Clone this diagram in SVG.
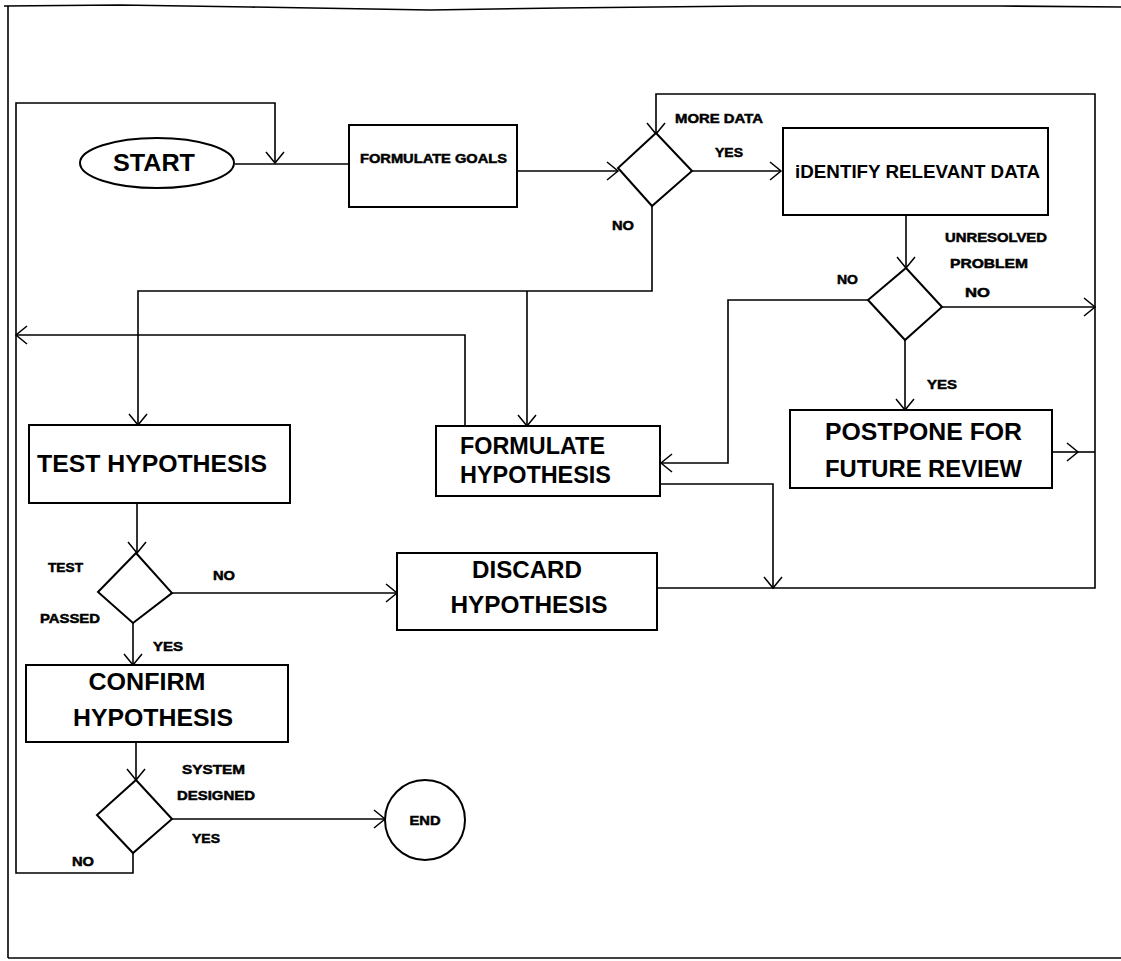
<svg xmlns="http://www.w3.org/2000/svg" width="1121" height="961" viewBox="0 0 1121 961">
<defs>
<marker id="arr" viewBox="-14 -12 16 24" refX="0" refY="0" markerWidth="16" markerHeight="24" markerUnits="userSpaceOnUse" orient="auto">
<path d="M-11,-9 L0,0 L-11,9" fill="none" stroke="#000" stroke-width="1.5"/>
</marker>
</defs>
<style>
.box{fill:#fff;stroke:#000;stroke-width:2}
.ln{fill:none;stroke:#000;stroke-width:1.6}
.big{font-family:"Liberation Sans",Arial,sans-serif;font-weight:bold;font-size:24px;fill:#000}
.sm{font-family:"Liberation Sans",Arial,sans-serif;font-weight:bold;font-size:13px;fill:#000;stroke:#000;stroke-width:0.5}
</style>
<rect width="1121" height="961" fill="#fff"/>
<g id="frame">
<polyline class="ln" stroke-width="2.5" points="4,6 120,5 250,7 430,10 560,8 750,6 1000,6 1121,7"/>
<line class="ln" stroke-width="2.5" x1="8" y1="6" x2="8" y2="958"/>
<line class="ln" stroke-width="2" x1="8" y1="958" x2="1121" y2="958"/>
</g>
<g id="connectors">
<path class="ln" d="M235,164 H349"/>
<path class="ln" marker-end="url(#arr)" d="M133,853 V873 H16 V103 H275 V163"/>
<path class="ln" marker-end="url(#arr)" d="M465,426 V335 H16"/>
<path class="ln" marker-end="url(#arr)" d="M517,171 H618"/>
<path class="ln" marker-end="url(#arr)" d="M692,171 H781"/>
<path class="ln" marker-end="url(#arr)" d="M652,206 V291 H138 V425"/>
<path class="ln" marker-end="url(#arr)" d="M527,291 V426"/>
<path class="ln" marker-end="url(#arr)" d="M906,215 V268"/>
<path class="ln" marker-end="url(#arr)" d="M942,307 H1095"/>
<path class="ln" marker-end="url(#arr)" d="M868,300 H728 V463 H661"/>
<path class="ln" marker-end="url(#arr)" d="M905,340 V410"/>
<path class="ln" marker-end="url(#arr)" d="M1052,452 H1078"/>
<path class="ln" d="M1078,452 H1095"/>
<path class="ln" marker-end="url(#arr)" d="M657,588 H1095 V94 H656 V134"/>
<path class="ln" marker-end="url(#arr)" d="M661,484 H773 V588"/>
<path class="ln" marker-end="url(#arr)" d="M137,503 V553"/>
<path class="ln" marker-end="url(#arr)" d="M172,593 H397"/>
<path class="ln" marker-end="url(#arr)" d="M133,623 V665"/>
<path class="ln" marker-end="url(#arr)" d="M136,742 V780"/>
<path class="ln" marker-end="url(#arr)" d="M172,819 H385"/>
</g>
<g id="start">
<ellipse class="box" cx="157" cy="163" rx="77" ry="25"/>
<text class="big" x="154" y="171" text-anchor="middle" textLength="82" lengthAdjust="spacingAndGlyphs">START</text>
</g>
<g id="formulate-goals">
<rect class="box" x="349" y="125" width="168" height="82"/>
<text class="sm" x="360" y="163" textLength="147" lengthAdjust="spacingAndGlyphs">FORMULATE GOALS</text>
</g>
<g id="more-data">
<polygon class="box" points="656,133 692,171 652,206 618,168"/>
<text class="sm" x="675" y="123" textLength="88" lengthAdjust="spacingAndGlyphs">MORE DATA</text>
<text class="sm" x="715" y="157" textLength="28" lengthAdjust="spacingAndGlyphs">YES</text>
<text class="sm" x="612" y="230" textLength="22" lengthAdjust="spacingAndGlyphs">NO</text>
</g>
<g id="identify">
<rect class="box" x="783" y="128" width="265" height="87"/>
<text x="795" y="178" class="big" style="font-size:18px" textLength="245" lengthAdjust="spacingAndGlyphs">iDENTIFY RELEVANT DATA</text>
</g>
<g id="unresolved">
<polygon class="box" points="906,268 942,307 905,340 868,300"/>
<text class="sm" x="945" y="242" textLength="102" lengthAdjust="spacingAndGlyphs">UNRESOLVED</text>
<text class="sm" x="950" y="268" textLength="78" lengthAdjust="spacingAndGlyphs">PROBLEM</text>
<text class="sm" x="965" y="297" textLength="25" lengthAdjust="spacingAndGlyphs">NO</text>
<text class="sm" x="837" y="284" textLength="21" lengthAdjust="spacingAndGlyphs">NO</text>
<text class="sm" x="927" y="389" textLength="30" lengthAdjust="spacingAndGlyphs">YES</text>
</g>
<g id="postpone">
<rect class="box" x="790" y="410" width="262" height="78"/>
<text class="big" x="825" y="440" textLength="197" lengthAdjust="spacingAndGlyphs">POSTPONE FOR</text>
<text class="big" x="825" y="477" textLength="197" lengthAdjust="spacingAndGlyphs">FUTURE REVIEW</text>
</g>
<g id="formulate-hypothesis">
<rect class="box" x="436" y="426" width="224" height="70"/>
<text class="big" x="460" y="454" style="font-size:23px" textLength="145" lengthAdjust="spacingAndGlyphs">FORMULATE</text>
<text class="big" x="460" y="483" style="font-size:23px" textLength="151" lengthAdjust="spacingAndGlyphs">HYPOTHESIS</text>
</g>
<g id="test-hypothesis">
<rect class="box" x="29" y="425" width="261" height="78"/>
<text class="big" x="37" y="472" textLength="230" lengthAdjust="spacingAndGlyphs">TEST HYPOTHESIS</text>
</g>
<g id="test-passed">
<polygon class="box" points="136,553 172,593 133,623 98,592"/>
<text class="sm" x="48" y="572" textLength="35" lengthAdjust="spacingAndGlyphs">TEST</text>
<text class="sm" x="40" y="623" textLength="60" lengthAdjust="spacingAndGlyphs">PASSED</text>
<text class="sm" x="213" y="580" textLength="22" lengthAdjust="spacingAndGlyphs">NO</text>
<text class="sm" x="153" y="651" textLength="30" lengthAdjust="spacingAndGlyphs">YES</text>
</g>
<g id="discard">
<rect class="box" x="397" y="553" width="260" height="77"/>
<text class="big" x="527" y="578" text-anchor="middle" textLength="110" lengthAdjust="spacingAndGlyphs">DISCARD</text>
<text class="big" x="529" y="613" text-anchor="middle" textLength="157" lengthAdjust="spacingAndGlyphs">HYPOTHESIS</text>
</g>
<g id="confirm">
<rect class="box" x="26" y="665" width="262" height="77"/>
<text class="big" x="147" y="690" text-anchor="middle" textLength="117" lengthAdjust="spacingAndGlyphs">CONFIRM</text>
<text class="big" x="153" y="726" text-anchor="middle" textLength="160" lengthAdjust="spacingAndGlyphs">HYPOTHESIS</text>
</g>
<g id="system-designed">
<polygon class="box" points="136,780 172,819 133,853 97,815"/>
<text class="sm" x="182" y="774" textLength="63" lengthAdjust="spacingAndGlyphs">SYSTEM</text>
<text class="sm" x="177" y="800" textLength="78" lengthAdjust="spacingAndGlyphs">DESIGNED</text>
<text class="sm" x="192" y="843" textLength="28" lengthAdjust="spacingAndGlyphs">YES</text>
<text class="sm" x="72" y="866" textLength="22" lengthAdjust="spacingAndGlyphs">NO</text>
</g>
<g id="end">
<circle class="box" cx="425" cy="820" r="40"/>
<text class="sm" x="425" y="825" text-anchor="middle" textLength="31" lengthAdjust="spacingAndGlyphs">END</text>
</g>
</svg>
